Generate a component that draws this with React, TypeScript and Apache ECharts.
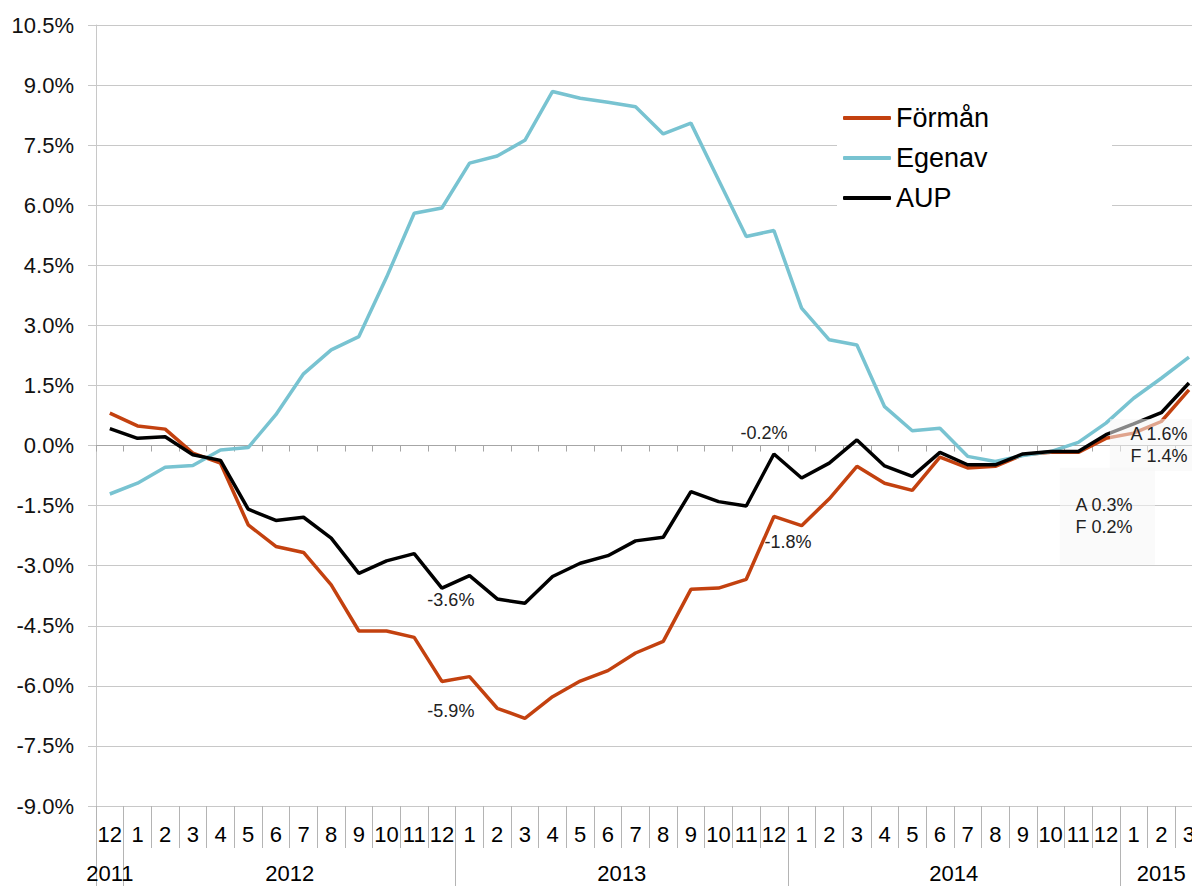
import React, { useEffect, useRef } from 'react';
import * as echarts from 'echarts';

const months = ['12', '1', '2', '3', '4', '5', '6', '7', '8', '9', '10', '11', '12', '1', '2', '3', '4', '5', '6', '7', '8', '9', '10', '11', '12', '1', '2', '3', '4', '5', '6', '7', '8', '9', '10', '11', '12', '1', '2', '3'];
const years = ['2011', '2012', '2013', '2014', '2015'];
const yearMonthCounts = [1, 12, 12, 12, 3];

const seriesNames = ['Förmån', 'Egenav', 'AUP'];

const formanData = [0.81, 0.49, 0.41, -0.19, -0.44, -1.98, -2.52, -2.67, -3.48, -4.63, -4.63, -4.79, -5.89, -5.77, -6.56, -6.81, -6.27, -5.88, -5.62, -5.18, -4.89, -3.59, -3.56, -3.34, -1.77, -2.0, -1.33, -0.52, -0.94, -1.12, -0.29, -0.56, -0.52, -0.23, -0.17, -0.17, 0.18, 0.31, 0.6, 1.39];
const egenavData = [-1.21, -0.94, -0.54, -0.5, -0.11, -0.05, 0.77, 1.79, 2.39, 2.72, 4.2, 5.8, 5.93, 7.05, 7.23, 7.62, 8.84, 8.67, 8.57, 8.46, 7.78, 8.05, 6.63, 5.22, 5.37, 3.43, 2.64, 2.51, 0.97, 0.37, 0.43, -0.27, -0.4, -0.25, -0.15, 0.08, 0.56, 1.18, 1.68, 2.21];
const aupData = [0.42, 0.18, 0.22, -0.23, -0.37, -1.59, -1.87, -1.79, -2.31, -3.19, -2.88, -2.7, -3.56, -3.25, -3.83, -3.94, -3.27, -2.94, -2.75, -2.38, -2.29, -1.15, -1.4, -1.51, -0.21, -0.81, -0.44, 0.14, -0.51, -0.77, -0.17, -0.48, -0.48, -0.21, -0.15, -0.15, 0.27, 0.54, 0.82, 1.56];

const yMin = -9;
const yMax = 10.5;
const yStep = 1.5;

const COLORS = ['#C3410F', '#78C3D1', '#000000'];
const FONT = '"Liberation Sans", Arial, Helvetica, sans-serif';
const GRID_GRAY = '#c8c8c8';
const TICK_GRAY = '#b4b4b4';

const pct = (v: number) => v.toFixed(1) + '%';

export default function App() {
  const ref = useRef<HTMLDivElement>(null);

  useEffect(() => {
    const chart = echarts.init(ref.current!, undefined, { renderer: 'svg' });

    const boundaries: number[] = [];
    const centers: Record<string, string> = {};
    let start = 0;
    years.forEach((y, i) => {
      boundaries.push(start);
      centers[(start + yearMonthCounts[i] / 2).toFixed(1)] = y;
      start += yearMonthCounts[i];
    });
    const total = months.length;

    const smallLabel = { show: true, position: 'inside', fontSize: 18, color: '#222', fontFamily: FONT };
    const boxLabel = {
      ...smallLabel,
      lineHeight: 22.5,
      backgroundColor: 'rgba(246,246,246,0.55)',
    };

    const option: any = {
      animation: false,
      textStyle: { fontFamily: FONT },
      grid: { left: 96, top: 25, width: 40 * 27.67, height: 781, outerBoundsMode: 'none', containLabel: false },
      legend: {
        orient: 'vertical',
        left: 837,
        top: 94.5,
        padding: [10, 123, 0, 6],
        itemGap: 13,
        itemWidth: 48,
        itemHeight: 4,
        icon: 'roundRect',
        backgroundColor: '#ffffff',
        selectedMode: false,
        textStyle: { fontSize: 27, lineHeight: 27, color: '#000', fontFamily: FONT },
        data: seriesNames,
      },
      xAxis: [
        {
          type: 'category',
          data: months,
          position: 'bottom',
          boundaryGap: true,
          axisLine: { show: true, onZero: false, lineStyle: { color: GRID_GRAY, width: 1 } },
          axisTick: { show: true, interval: 0, length: 42, lineStyle: { color: TICK_GRAY, width: 1 } },
          axisLabel: { interval: 0, fontSize: 22, color: '#000', margin: 17, fontFamily: FONT },
          splitLine: { show: false },
        },
        {
          type: 'category',
          data: months,
          position: 'bottom',
          boundaryGap: true,
          axisLine: { show: true, onZero: true, lineStyle: { color: '#a6a6a6', width: 1 } },
          axisTick: { show: true, interval: 0, length: 6, lineStyle: { color: '#a6a6a6', width: 1 } },
          axisLabel: { show: false },
          splitLine: { show: false },
        },
        {
          type: 'category',
          data: months,
          position: 'bottom',
          boundaryGap: true,
          axisLine: { show: false, onZero: false },
          axisTick: {
            show: true,
            length: 80,
            interval: (idx: number) => boundaries.includes(idx),
            lineStyle: { color: TICK_GRAY, width: 1 },
          },
          axisLabel: { show: false },
          splitLine: { show: false },
        },
        {
          type: 'value',
          min: 0,
          max: total,
          interval: 0.5,
          position: 'bottom',
          axisLine: { show: false, onZero: false },
          axisTick: { show: false },
          splitLine: { show: false },
          axisLabel: {
            show: true,
            fontSize: 22,
            color: '#000',
            margin: 56,
            fontFamily: FONT,
            showMinLabel: true,
            showMaxLabel: true,
            formatter: (v: number) => centers[v.toFixed(1)] ?? '',
          },
        },
      ],
      yAxis: {
        type: 'value',
        min: yMin,
        max: yMax,
        interval: yStep,
        axisLine: { show: true, onZero: false, lineStyle: { color: GRID_GRAY, width: 1 } },
        axisTick: { show: true, length: 8, lineStyle: { color: GRID_GRAY, width: 1 } },
        axisLabel: { fontSize: 22, color: '#111', margin: 22, fontFamily: FONT, formatter: (v: number) => v.toFixed(1) + '%' },
        splitLine: { show: true, lineStyle: { color: GRID_GRAY, width: 1 } },
      },
      series: [
        {
          name: seriesNames[0],
          type: 'line',
          data: formanData,
          symbol: 'none',
          color: COLORS[0],
          lineStyle: { width: 3.5, color: COLORS[0] },
          silent: true,
          markPoint: {
            symbol: 'circle',
            symbolSize: 0,
            silent: true,
            data: [
              { coord: [24, formanData[24]], label: { ...smallLabel, formatter: pct(formanData[24]), offset: [14, 26] } },
              { coord: [12, formanData[12]], label: { ...smallLabel, formatter: pct(formanData[12]), offset: [9, 30] } },
            ],
          },
        },
        {
          name: seriesNames[1],
          type: 'line',
          data: egenavData,
          symbol: 'none',
          color: COLORS[1],
          lineStyle: { width: 3.5, color: COLORS[1] },
          silent: true,
        },
        {
          name: seriesNames[2],
          type: 'line',
          data: aupData,
          symbol: 'none',
          color: COLORS[2],
          lineStyle: { width: 3.5, color: COLORS[2] },
          silent: true,
          markPoint: {
            symbol: 'circle',
            symbolSize: 0,
            silent: true,
            data: [
              { coord: [24, aupData[24]], label: { ...smallLabel, formatter: pct(aupData[24]), offset: [-10, -20.5] } },
              { coord: [12, aupData[12]], label: { ...smallLabel, formatter: pct(aupData[12]), offset: [9, 12] } },
              {
                coord: [39, aupData[39]],
                label: {
                  ...boxLabel,
                  formatter: `A ${pct(aupData[39])}\nF ${pct(formanData[39])}`,
                  padding: [7, 12, 0, 20],
                  offset: [-34, 62],
                },
              },
              {
                coord: [36, aupData[36]],
                label: {
                  ...boxLabel,
                  formatter: `A ${pct(aupData[36])}\nF ${pct(formanData[36])}`,
                  padding: [10, 22, 42, 15],
                  offset: [1.5, 81.5],
                },
              },
            ],
          },
        },
      ],
    };

    chart.setOption(option);
    return () => chart.dispose();
  }, []);

  return <div ref={ref} style={{ position: 'fixed', left: 0, top: 0, width: 1192, height: 886, background: '#fff' }} />;
}
